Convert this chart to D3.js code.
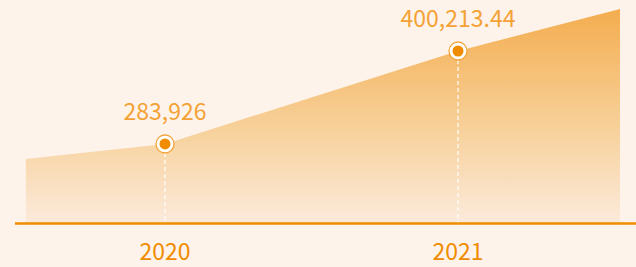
<!DOCTYPE html>
<html>
<head>
<meta charset="utf-8">
<script src="https://cdn.jsdelivr.net/npm/d3@7"></script>
<style>
  html, body { margin: 0; padding: 0; background: #fdf3ea; }
  svg { display: block; }
</style>
</head>
<body>
<svg id="chart" width="636" height="267"></svg>
<script>
// the two labelled years and their values
var years = [2020, 2021];
var values = [283926, 400213.44];
var labels = ["283,926", "400,213.44"];

// area runs a little past both years, to the plot edges
var areaYears = [2019.525, 2020, 2021, 2021.553];
var areaValues = [265200, 283926, 400213.44, 452700];

var svg = d3.select("#chart");
var width = +svg.attr("width");
var height = +svg.attr("height");

var x = d3.scaleLinear()
    .domain([2020, 2021])
    .range([165, 458]);

var y = d3.scaleLinear()
    .domain([185100, 400213.44])
    .range([223, 51]);

var defs = svg.append("defs");
var grad = defs.append("linearGradient")
    .attr("id", "fillGrad")
    .attr("x1", 0).attr("y1", 0)
    .attr("x2", 0).attr("y2", 1);
grad.append("stop").attr("offset", "0%").attr("stop-color", "#f4ad4f");
grad.append("stop").attr("offset", "55%").attr("stop-color", "#f7d099");
grad.append("stop").attr("offset", "100%").attr("stop-color", "#fbeadb");

var pts = areaYears.map(function(d, i) { return {year: d, value: areaValues[i]}; });

var area = d3.area()
    .x(function(d) { return x(d.year); })
    .y0(y(185100))
    .y1(function(d) { return y(d.value); });

svg.append("path")
    .datum(pts)
    .attr("d", area)
    .attr("fill", "url(#fillGrad)");

// dashed drop lines
svg.selectAll(".drop")
  .data(years)
  .join("line")
    .attr("class", "drop")
    .attr("x1", d => x(d))
    .attr("x2", d => x(d))
    .attr("y1", (d, i) => y(values[i]) + 9)
    .attr("y2", y(185100))
    .attr("stroke", "#ffffff")
    .attr("stroke-width", 1.2)
    .attr("stroke-dasharray", "4,3");

// baseline
svg.append("line")
    .attr("x1", 15)
    .attr("x2", width)
    .attr("y1", y(185100) + 0.5)
    .attr("y2", y(185100) + 0.5)
    .attr("stroke", "#f08c00")
    .attr("stroke-width", 2.5);

// markers
var marks = svg.selectAll(".mark")
  .data(years)
  .join("g")
    .attr("class", "mark")
    .attr("transform", (d, i) => "translate(" + x(d) + "," + y(values[i]) + ")");

marks.append("circle")
    .attr("r", 9)
    .attr("fill", "#ffffff")
    .attr("stroke", "#f2a53a")
    .attr("stroke-width", 1.3);

marks.append("circle")
    .attr("r", 5.5)
    .attr("fill", "#f08c00");

// value labels
svg.selectAll(".val")
  .data(years)
  .join("text")
    .attr("class", "val")
    .attr("x", d => x(d))
    .attr("y", (d, i) => y(values[i]) - 24)
    .attr("text-anchor", "middle")
    .style("font", "23px 'Noto Sans CJK SC', 'Noto Sans', sans-serif")
    .attr("fill", "#f4a235")
    .text((d, i) => labels[i]);

// year labels
svg.selectAll(".year")
  .data(years)
  .join("text")
    .attr("class", "year")
    .attr("x", d => x(d))
    .attr("y", 260)
    .attr("text-anchor", "middle")
    .style("font", "23px 'Noto Sans CJK SC', 'Noto Sans', sans-serif")
    .attr("fill", "#f08c00")
    .text(d => d);
</script>
</body>
</html>
